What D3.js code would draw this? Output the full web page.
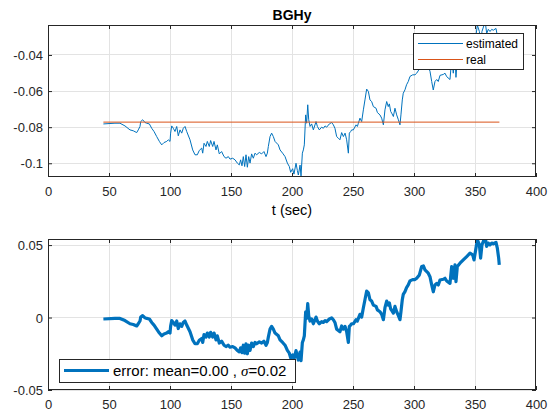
<!DOCTYPE html>
<html>
<head>
<meta charset="utf-8">
<script src="https://cdn.jsdelivr.net/npm/d3@7"></script>
<style>
  html, body { margin: 0; padding: 0; background: #fff; }
  svg { display: block; font-family: "Liberation Sans", Arial, Helvetica, sans-serif; }
</style>
</head>
<body>
<svg id="chart" width="557" height="411"></svg>
<script>
// ---------------- data ----------------
const title = "BGHy";
const xLabel = "t (sec)";
const xTicks = [0, 50, 100, 150, 200, 250, 300, 350, 400];
const topYTicks = [-0.1, -0.08, -0.06, -0.04];
const topYTickLabels = ["-0.1", "-0.08", "-0.06", "-0.04"];
const bottomYTicks = [-0.05, 0, 0.05];
const bottomYTickLabels = ["-0.05", "0", "0.05"];
const legendTop = ["estimated", "real"];
const legendBottom = "error: mean=0.00 , ";
const legendBottomSigma = "σ";
const legendBottomTail = "=0.02";

const realTime = [45.4, 370];
const realValue = -0.0772;

const time = [
  45.4, 54.9, 59.0, 63.1, 67.2, 69.9, 72.7, 74.0, 75.4, 76.0, 77.6, 79.5, 80.9, 83.1, 85.0, 86.9, 89.1, 91.3, 93.2, 95.1,
  97.3, 98.6, 100.0, 100.5, 101.4, 102.7, 104.1, 105.5, 106.8, 108.2, 109.6, 110.9, 112.3, 113.7, 116.4, 118.6, 120.5, 122.4, 124.0, 126.0,
  126.8, 127.9, 129.5, 130.6, 132.2, 133.3, 135.0, 136.1, 137.7, 138.8, 140.4, 142.3, 144.3, 145.9, 147.8, 149.2, 151.4, 153.3, 155.2, 156.8,
  157.9, 159.0, 160.1, 161.2, 162.3, 163.4, 164.5, 165.6, 166.9, 168.3, 169.7, 171.0, 173.2, 175.1, 177.0, 178.7, 179.8, 180.6, 182.0, 183.3,
  184.7, 186.1, 188.8, 190.2, 192.3, 194.3, 196.2, 197.8, 198.9, 200.5, 201.6, 203.3, 204.4, 205.2, 206.6, 207.4, 208.5, 209.3, 210.1, 211.2,
  212.0, 212.9, 213.7, 214.8, 216.1, 217.5, 219.7, 220.8, 222.4, 224.3, 225.7, 227.1, 228.4, 230.6, 232.5, 233.9, 235.2, 236.6, 238.0, 239.3,
  240.7, 242.1, 243.5, 244.8, 246.2, 247.0, 248.1, 248.9, 250.3, 252.5, 253.6, 254.4, 255.7, 257.1, 258.5, 259.8, 261.2, 262.6, 263.9, 265.3,
  266.7, 268.9, 270.0, 272.1, 273.5, 274.9, 276.2, 277.6, 278.9, 279.8, 280.9, 281.7, 283.1, 284.4, 285.8, 287.2, 288.5, 289.3, 290.4, 291.2,
  292.6, 293.9, 295.3, 296.7, 298.9, 300.8, 302.2, 304.4, 306.3, 307.7, 309.0, 311.7, 313.1, 314.5, 315.8, 317.2, 318.6, 319.9, 321.3, 324.0,
  325.4, 326.8, 329.5, 330.9, 332.2, 333.6, 334.4, 335.5, 337.7, 340.4, 343.2, 345.9, 348.1, 349.2, 350.8, 351.9, 353.6, 354.6, 355.7, 357.4,
  358.5, 359.6, 360.9, 362.3, 363.7, 365.0, 367.2, 368.3, 369.4, 369.9
];
const estimated = [
  -0.0782, -0.0778, -0.0778, -0.0793, -0.0815, -0.0820, -0.0830, -0.0815, -0.0796, -0.0769, -0.0759, -0.0774, -0.0778, -0.0782, -0.0806, -0.0824, -0.0852, -0.0879, -0.0898, -0.0885,
  -0.0879, -0.0870, -0.0879, -0.0833, -0.0793, -0.0806, -0.0824, -0.0796, -0.0848, -0.0815, -0.0833, -0.0806, -0.0796, -0.0824, -0.0870, -0.0926, -0.0953, -0.0953, -0.0929, -0.0916,
  -0.0944, -0.0889, -0.0907, -0.0879, -0.0907, -0.0874, -0.0907, -0.0879, -0.0926, -0.0898, -0.0948, -0.0935, -0.0963, -0.0972, -0.0963, -0.0977, -0.0972, -0.0981, -0.0999, -0.1009,
  -0.0981, -0.1014, -0.0963, -0.1018, -0.0953, -0.1022, -0.0963, -0.0999, -0.0948, -0.0972, -0.0944, -0.0953, -0.0940, -0.0948, -0.0935, -0.0963, -0.0944, -0.0907, -0.0852, -0.0833,
  -0.0852, -0.0879, -0.0898, -0.0926, -0.0944, -0.0963, -0.0999, -0.1018, -0.1050, -0.1030, -0.1060, -0.1000, -0.1040, -0.1065, -0.1010, -0.1070, -0.0944, -0.0926, -0.0898, -0.0732,
  -0.0778, -0.0676, -0.0759, -0.0796, -0.0782, -0.0815, -0.0769, -0.0796, -0.0815, -0.0800, -0.0806, -0.0793, -0.0800, -0.0782, -0.0774, -0.0787, -0.0806, -0.0852, -0.0861, -0.0870,
  -0.0830, -0.0852, -0.0833, -0.0870, -0.0944, -0.0833, -0.0824, -0.0815, -0.0815, -0.0787, -0.0796, -0.0778, -0.0750, -0.0769, -0.0704, -0.0649, -0.0589, -0.0602, -0.0649, -0.0658,
  -0.0686, -0.0695, -0.0719, -0.0732, -0.0750, -0.0787, -0.0704, -0.0658, -0.0686, -0.0671, -0.0713, -0.0722, -0.0741, -0.0695, -0.0732, -0.0759, -0.0787, -0.0732, -0.0649, -0.0612,
  -0.0593, -0.0565, -0.0547, -0.0519, -0.0510, -0.0510, -0.0501, -0.0478, -0.0420, -0.0416, -0.0443, -0.0466, -0.0490, -0.0547, -0.0594, -0.0547, -0.0536, -0.0547, -0.0513, -0.0508,
  -0.0501, -0.0520, -0.0536, -0.0420, -0.0501, -0.0409, -0.0524, -0.0420, -0.0397, -0.0374, -0.0351, -0.0328, -0.0339, -0.0374, -0.0293, -0.0235, -0.0270, -0.0362, -0.0270, -0.0235,
  -0.0223, -0.0281, -0.0258, -0.0270, -0.0258, -0.0263, -0.0253, -0.0293, -0.0362, -0.0409
];
// error = estimated - real (what the lower panel shows)
const errorValues = estimated.map(v => v - realValue);

// ---------------- layout / style ----------------
const AX = "#262626", GRID = "#e3e3e3";
const BLUE = "#0072BD", ORANGE = "#D95319";
const L = 48, R = 536;
const top1 = 25, bot1 = 177;
const top2 = 239, bot2 = 390;

const svg = d3.select("#chart");
const x = d3.scaleLinear().domain([0, 400]).range([L, R]);
const y1 = d3.scaleLinear().domain([-0.1076, -0.0234]).range([bot1, top1]);
const y2 = d3.scaleLinear().domain([-0.05, 0.0542]).range([bot2, top2]);

function panel(id, y, yTop, yBot, yTicks) {
  const g = svg.append("g");
  svg.append("clipPath").attr("id", id).append("rect")
    .attr("x", L).attr("y", yTop).attr("width", R - L).attr("height", yBot - yTop);
  g.selectAll(".gx").data(xTicks.filter(t => t > 0 && t < 400)).join("line")
    .attr("x1", d => x(d)).attr("x2", d => x(d)).attr("y1", yTop).attr("y2", yBot)
    .attr("stroke", GRID).attr("stroke-width", 1).attr("shape-rendering", "crispEdges");
  g.selectAll(".gy").data(yTicks).join("line")
    .attr("x1", L).attr("x2", R).attr("y1", d => y(d)).attr("y2", d => y(d))
    .attr("stroke", GRID).attr("stroke-width", 1).attr("shape-rendering", "crispEdges");
  return g;
}

function frame(y, yTop, yBot, yTicks, yLabels) {
  const g = svg.append("g");
  const xb = g.append("g").attr("transform", `translate(0,${yBot})`)
    .call(d3.axisBottom(x).tickValues(xTicks).tickSizeInner(-4).tickSizeOuter(0).tickPadding(9).tickFormat(d3.format("d")));
  const xt = g.append("g").attr("transform", `translate(0,${yTop})`)
    .call(d3.axisTop(x).tickValues(xTicks).tickSizeInner(-4).tickSizeOuter(0).tickFormat(""));
  const yl = g.append("g").attr("transform", `translate(${L},0)`)
    .call(d3.axisLeft(y).tickValues(yTicks).tickSizeInner(-4).tickSizeOuter(0).tickPadding(9)
      .tickFormat((d, i) => yLabels[i]));
  const yr = g.append("g").attr("transform", `translate(${R},0)`)
    .call(d3.axisRight(y).tickValues(yTicks).tickSizeInner(-4).tickSizeOuter(0).tickFormat(""));
  [xb, xt, yl, yr].forEach(a => {
    a.select(".domain").remove();
    a.selectAll("line").attr("stroke", AX).attr("stroke-width", 1);
    a.selectAll("text").attr("fill", AX).style("font-size", "13px")
      .style("font-family", '"Liberation Sans", Arial, sans-serif');
  });
  xb.selectAll("text").attr("dy", null).attr("y", 18.5);
  yl.selectAll("text").attr("dy", "0.35em").attr("x", -5);
  g.append("rect").attr("x", L + 0.5).attr("y", yTop + 0.5).attr("width", R - L - 1).attr("height", yBot - yTop - 1)
    .attr("fill", "none").attr("stroke", AX).attr("stroke-width", 1);
}

// ---------------- top panel ----------------
panel("clip1", y1, top1, bot1, topYTicks);
const line1 = d3.line().x((d, i) => x(time[i])).y(d => y1(d));
svg.append("path").datum(estimated).attr("clip-path", "url(#clip1)")
  .attr("d", line1).attr("fill", "none").attr("stroke", BLUE).attr("stroke-width", 1).attr("stroke-linejoin", "round");
svg.append("line").attr("clip-path", "url(#clip1)")
  .attr("x1", x(realTime[0])).attr("x2", x(realTime[1]))
  .attr("y1", y1(realValue)).attr("y2", y1(realValue))
  .attr("stroke", ORANGE).attr("stroke-width", 1);
frame(y1, top1, bot1, topYTicks, topYTickLabels);

// legend (top)
const lg = svg.append("g");
lg.append("rect").attr("x", 413.5).attr("y", 33.5).attr("width", 110).attr("height", 36)
  .attr("fill", "#fff").attr("stroke", AX).attr("stroke-width", 1);
[BLUE, ORANGE].forEach((c, i) => {
  const yy = 43.5 + i * 16;
  lg.append("line").attr("x1", 418).attr("x2", 463).attr("y1", yy).attr("y2", yy)
    .attr("stroke", c).attr("stroke-width", 1);
  lg.append("text").attr("x", 466).attr("y", yy + 4.2).text(legendTop[i])
    .attr("fill", "#000").style("font-size", "12px");
});

// title and x label
svg.append("text").attr("x", (L + R) / 2).attr("y", 20).attr("text-anchor", "middle")
  .style("font-size", "14px").style("font-weight", "bold").attr("fill", "#000").text(title);
svg.append("text").attr("x", (L + R) / 2).attr("y", 215).attr("text-anchor", "middle")
  .style("font-size", "14.5px").attr("fill", "#000").text(xLabel);

// ---------------- bottom panel ----------------
panel("clip2", y2, top2, bot2, bottomYTicks);
const line2 = d3.line().x((d, i) => x(time[i])).y(d => y2(d));
svg.append("path").datum(errorValues).attr("clip-path", "url(#clip2)")
  .attr("d", line2).attr("fill", "none").attr("stroke", BLUE).attr("stroke-width", 3.2)
  .attr("stroke-linejoin", "round").attr("stroke-linecap", "butt");
frame(y2, top2, bot2, bottomYTicks, bottomYTickLabels);

// legend (bottom)
const lb = svg.append("g");
lb.append("rect").attr("x", 59.5).attr("y", 359.5).attr("width", 236).attr("height", 23)
  .attr("fill", "#fff").attr("stroke", AX).attr("stroke-width", 1);
lb.append("line").attr("x1", 64).attr("x2", 109).attr("y1", 370.5).attr("y2", 370.5)
  .attr("stroke", BLUE).attr("stroke-width", 3.2);
const lt = lb.append("text").attr("x", 113).attr("y", 375.8).attr("fill", "#000").style("font-size", "15px");
lt.append("tspan").text(legendBottom);
lt.append("tspan").style("font-family", '"Liberation Serif", "Times New Roman", serif').style("font-style", "italic").text(legendBottomSigma);
lt.append("tspan").text(legendBottomTail);
</script>
</body>
</html>
